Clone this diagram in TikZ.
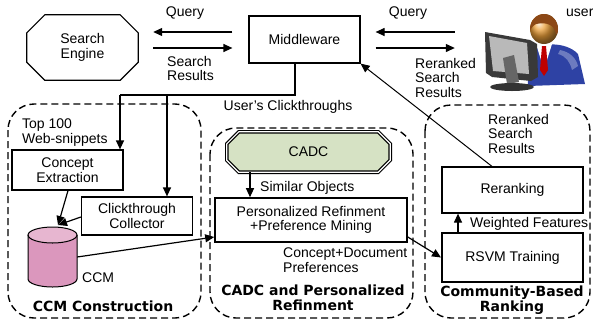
\documentclass[tikz,border=0pt]{standalone}
\usepackage{fontspec}
\setmainfont{Liberation Sans}
\newfontfamily\titlefont{DejaVu Sans}
\usetikzlibrary{arrows.meta,calc}
\definecolor{cadcgreen}{RGB}{214,226,196}
\definecolor{ccmbody}{RGB}{219,151,189}
\definecolor{ccmtop}{RGB}{231,182,208}
\definecolor{suit}{RGB}{46,66,164}
\definecolor{hair}{RGB}{140,72,22}
\definecolor{skin}{RGB}{236,160,58}
\begin{document}
\begin{tikzpicture}[x=1pt,y=-1pt,
  txt/.style={font=\fontsize{14}{14.5}\selectfont, inner sep=0pt},
  box/.style={txt, draw, line width=1.2pt, align=center},
  lbl/.style={txt, align=left},
  arr/.style={-{Triangle[length=9pt,width=8pt]}, line width=1.2pt},
  plain/.style={line width=1.2pt},
  group/.style={draw, dash pattern=on 7pt off 4pt, line width=1.4pt, rounded corners=26pt},
  title/.style={font=\titlefont\bfseries\fontsize{14}{15}\selectfont, align=center, inner sep=0pt}]
\useasboundingbox (0,0) rectangle (593,322);

% ---------- top row ----------
\node[box, minimum width=111pt, minimum height=47pt] (mw) at (304.5,39.5) {Middleware};
\node[txt, align=center, minimum width=111pt, minimum height=65pt] (se) at (82.5,47.5) {Search\\Engine};
\draw[plain] ([xshift=18pt]se.north west) -- ([xshift=-18pt]se.north east)
  -- ([yshift=-18pt]se.north east) -- ([yshift=18pt]se.south east)
  -- ([xshift=-18pt]se.south east) -- ([xshift=18pt]se.south west)
  -- ([yshift=18pt]se.south west) -- ([yshift=-18pt]se.north west) -- cycle;

% user at the computer
\node[minimum width=115pt, minimum height=80pt, inner sep=0pt] (usr) at (527.5,55) {};
\begin{scope}
  \fill[suit] (527,52) .. controls (538,42) and (566,41) .. (578,54) -- (585,84) -- (528,86) -- cycle;
  \fill[suit!70!white] (560,50) .. controls (570,52) and (576,58) .. (578,66) -- (572,70) .. controls (570,62) and (566,56) .. (558,54) -- cycle;
  \fill[white] (536,44) -- (552,44) -- (547,60) -- (541,60) -- cycle;
  \fill[red!75!black] (542,46) -- (546,46) -- (548,70) -- (544,76) -- (540,70) -- cycle;
  \shade[ball color=skin] (544,29) ellipse [x radius=14pt, y radius=15pt];
  \begin{scope}
    \clip (544,29) ellipse [x radius=14pt, y radius=15pt];
    \fill[hair] (526,12) -- (562,12) -- (562,36) -- (556,34) .. controls (554,24) and (546,22) .. (536,24)
      .. controls (532,26) and (530,30) .. (529,34) -- cycle;
  \end{scope}
  \fill[gray!45!black] (485,32) -- (530,40) -- (537,44) -- (538,77) -- (531,81) -- (492,77) -- (486,73) -- cycle;
  \fill[gray!55] (489,36) -- (527,43) -- (529,74) -- (493,71) -- cycle;
  \fill[gray!80!black] (503,58) -- (514,55) -- (519,82) -- (507,84) -- cycle;
  \fill[gray!40!black] (512,87) ellipse [x radius=22pt, y radius=4pt];
\end{scope}
\node[lbl, anchor=west] (userlbl) at (566,13) {user};

% query / result arrows
\coordinate (q1) at ([yshift=7.5pt]mw.west);
\coordinate (r1) at ([yshift=-8.5pt]mw.west);
\draw[arr, shorten <=16pt, shorten >=15pt] (q1) -- (q1 -| se.east);
\draw[arr, shorten <=15pt, shorten >=16pt] (r1 -| se.east) -- (r1);
\node[txt] (qlbl1) at (185,13) {Query};
\node[lbl, anchor=north west] (srlbl) at (167,56) {Search\\Results};

\coordinate (q2) at ([yshift=7.5pt]mw.east);
\coordinate (r2) at ([yshift=-8.5pt]mw.east);
\draw[arr, shorten <=15pt, shorten >=15pt] (q2 -| usr.west) -- (q2);
\draw[arr, shorten <=15pt, shorten >=15pt] (r2) -- (r2 -| usr.west);
\node[txt] (qlbl2) at (408,13) {Query};
\node[lbl, anchor=north west] (rrlbl1) at (415,58) {Reranked\\Search\\Results};

% ---------- groups ----------
\draw[group] (8,104) rectangle (201,318);
\draw[group] (210,128) rectangle (413,318);
\draw[group] (425,105) rectangle (590,318);

\node[title] (t1) at (103,306) {CCM Construction};
\node[title] (t2) at (313,297.5) {CADC and Personalized\\Refinment};
\node[title] (t3) at (512,300) {Community-Based\\Ranking};

% ---------- CCM construction ----------
\node[box, minimum width=111pt, minimum height=40pt] (ce) at (67.5,170) {Concept\\Extraction};
\node[box, minimum width=111pt, minimum height=38pt] (cc) at (137,216) {Clickthrough\\Collector};
\node[lbl, anchor=north west] (toplbl) at (22,119) {Top 100\\Web-snippets};

% the CCM store
\fill[ccmbody] (28,235) -- (28,279) arc[start angle=180, end angle=360, x radius=24.5pt, y radius=8pt]
  -- (77,235) -- cycle;
\fill[ccmtop] (52.5,235) ellipse [x radius=24.5pt, y radius=8pt];
\draw[line width=1pt] (28,235) -- (28,279) arc[start angle=180, end angle=360, x radius=24.5pt, y radius=8pt] -- (77,235);
\draw[line width=1pt] (52.5,235) ellipse [x radius=24.5pt, y radius=8pt];
\node[minimum width=49pt, minimum height=60pt, inner sep=0pt] (cyl) at (52.5,257) {};
\node[lbl, anchor=west] (ccmlbl) at (82,278) {CCM};
\coordinate (cyltop) at (58,225);

\coordinate (splitA) at (295,95);
\coordinate (splitB) at (120,95);
\coordinate (splitC) at (167,95);
\draw[plain] (mw.south -| splitA) -- (splitA) -- (splitB);
\draw[arr] (splitB) -- (splitB |- ce.north);
\draw[arr] (splitC) -- (splitC |- cc.north);
\node[txt] (uclbl) at (288,107) {User's Clickthroughs};

\draw[arr] ([xshift=0.5pt]ce.south) -- (cyltop);
\draw[arr] ([yshift=-1pt]cc.west) -- (cyltop);

% ---------- CADC and refinement ----------
\node[minimum width=163pt, minimum height=40pt, inner sep=0pt] (cadc) at (308.5,152) {};
\draw[fill=cadcgreen, double=white, double distance=1.2pt, line width=1.2pt]
  ([xshift=12pt]cadc.north west) -- ([xshift=-12pt]cadc.north east)
  -- ([yshift=-12pt]cadc.north east) -- ([yshift=12pt]cadc.south east)
  -- ([xshift=-12pt]cadc.south east) -- ([xshift=12pt]cadc.south west)
  -- ([yshift=12pt]cadc.south west) -- ([yshift=-12pt]cadc.north west) -- cycle;
\node[txt] (cadctext) at (cadc.center) {CADC};

\node[box, line width=1.6pt, minimum width=192pt, minimum height=44pt] (pr) at (311,220) {Personalized Refinment\\+Preference Mining};
\coordinate (simx) at (250,0);
\draw[arr] (cadc.south -| simx) -- (pr.north -| simx);
\node[lbl, anchor=west] (simlbl) at (260,188) {Similar Objects};
\node[lbl, anchor=north west] (cdlbl) at (283,248) {Concept+Document\\Preferences};

% ---------- community-based ranking ----------
\node[box, minimum width=141pt, minimum height=46pt] (rr) at (512.5,190) {Reranking};
\node[box, line width=2pt, minimum width=141pt, minimum height=49pt] (rsvm) at (512.5,257.5) {RSVM Training};
\draw[arr] ([xshift=-54.5pt]rsvm.north) -- ([xshift=-54.5pt]rr.south);
\node[lbl, anchor=west] (wflbl) at (470,224) {Weighted Features};
\node[lbl, anchor=north west] (rrlbl2) at (488,114) {Reranked\\Search\\Results};

% ---------- cross-group flows ----------
\draw[arr, line width=1pt] ([xshift=-20.5pt]rr.north) -- (mw.south east);
\draw[arr] (cyl.east) -- ([yshift=-17pt]pr.west);
\draw[arr] ([yshift=-17pt]pr.east) -- (rsvm.west);
\end{tikzpicture}
\end{document}
